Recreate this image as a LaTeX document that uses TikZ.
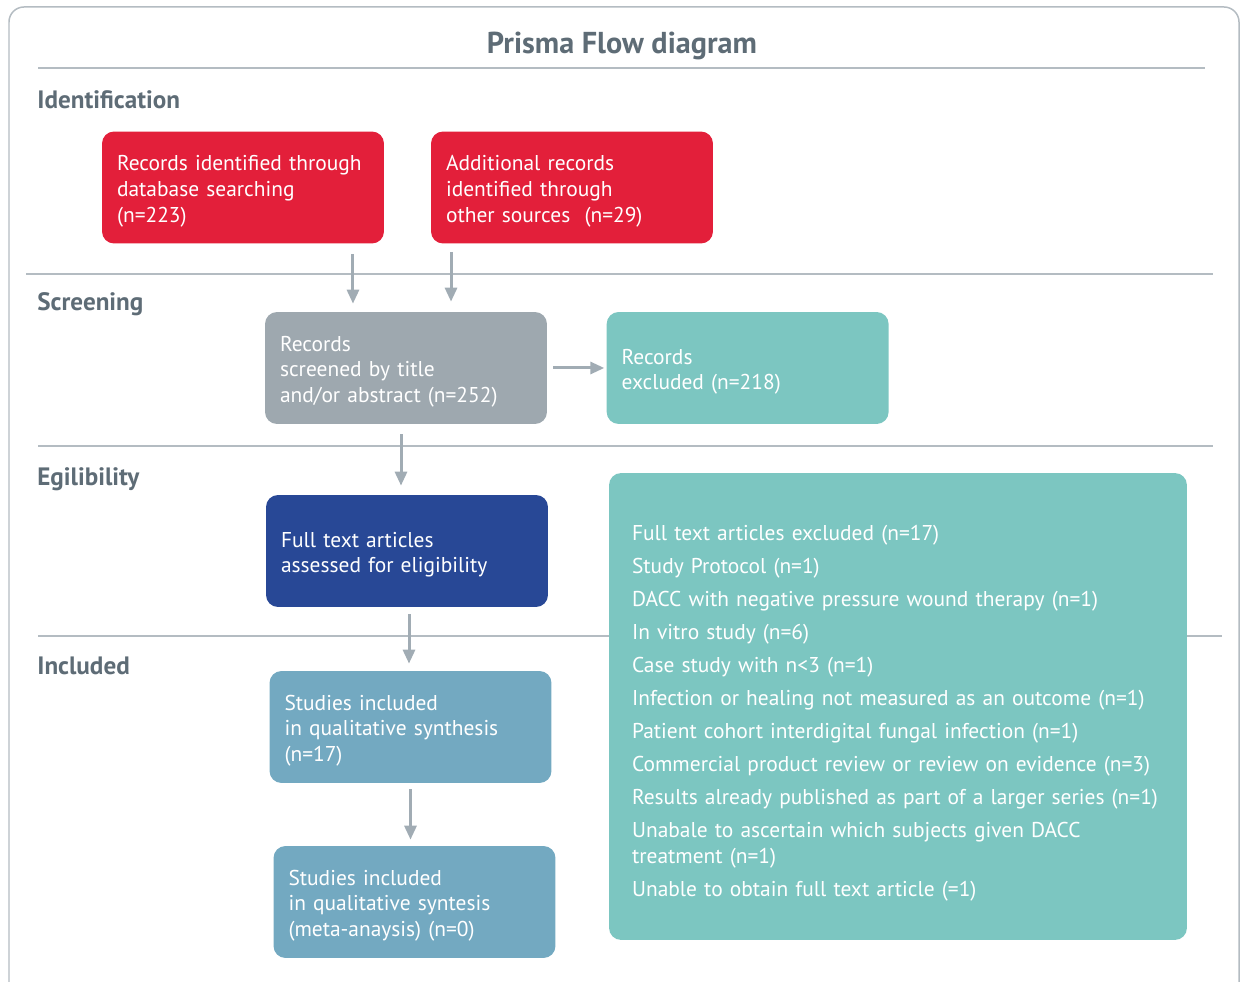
\documentclass[tikz,border=0pt]{standalone}
\usepackage{fontspec}
\setmainfont{PT Sans}
\usetikzlibrary{arrows.meta,positioning}
\definecolor{prred}{HTML}{E31F3A}
\definecolor{prgrey}{HTML}{9EA8AF}
\definecolor{prteal}{HTML}{7CC6C1}
\definecolor{prblue}{HTML}{284896}
\definecolor{prsteel}{HTML}{73A9C1}
\definecolor{labgrey}{HTML}{5E6C76}
\definecolor{linegrey}{HTML}{B4BCC2}
\definecolor{arrgrey}{HTML}{A1ACB4}

\begin{document}
\begin{tikzpicture}[x=0.02cm, y=-0.02cm,
    box/.style={rectangle, rounded corners=0.24cm, text=white, align=left, inner xsep=0.3cm, inner ysep=0pt,
                text width=5.04cm, minimum height=2.24cm, font=\fontsize{12.2}{14.6}\selectfont,
                text height=12.8pt},
    sec/.style={anchor=west, inner sep=0pt, text=labgrey, font=\bfseries\fontsize{14.3}{17}\selectfont},
    sepline/.style={draw=linegrey, line width=0.04cm},
    arr/.style={draw=arrgrey, line width=0.06cm, -{Triangle[length=0.28cm, width=0.24cm]}}]
\clip (0,0) rectangle (1242,982);
\draw[linegrey, line width=0.03cm, rounded corners=0.3cm] (9,7) rectangle (1239,1020);
\node[text=labgrey, font=\bfseries\fontsize{17.2}{20}\selectfont] (title) at (622,46) {Prisma Flow diagram};
\draw[sepline] (38,68) -- (1205,68);
\draw[sepline] (26,274) -- (1213,274);
\draw[sepline] (38,446) -- (1213,446);
\draw[sepline] (38,636) -- (1222,636);
\foreach \n/\y/\t in {idl/100/Identification, scl/304/Screening, ell/479/Egilibility, inl/666/Included}
    \node[sec] (\n) at (37,\y) {\t};
\node[box, fill=prred] (red1) at (243,187.5) {Records identified through\\database searching\\(n=223)};
\node[box, fill=prred] (red2) at (572,187.5) {Additional records\\identified through\\other sources~ (n=29)};
\node[box, fill=prgrey] (grey) at (406,368) {Records\\screened by title\\and/or abstract (n=252)};
\node[box, fill=prteal, right=1.18cm of grey] (recex) {Records\\excluded (n=218)};
\node[box, fill=prblue] (full) at (407,551) {Full text articles\\assessed for eligibility};
\node[box, fill=prsteel] (qual1) at (410.5,727) {Studies included\\in qualitative synthesis\\(n=17)};
\node[box, fill=prsteel] (qual2) at (414.5,902) {Studies included\\in qualitative syntesis\\(meta-anaysis) (n=0)};
\node[box, fill=prteal, text width=10.64cm, inner xsep=0.46cm, minimum height=9.34cm, text height=16pt] (fullex) at (898,706.5)
    {Full text articles excluded (n=17)\\[4.2pt]
     Study Protocol (n=1)\\[4.2pt]
     DACC with negative pressure wound therapy (n=1)\\[4.2pt]
     In vitro study (n=6)\\[4.2pt]
     Case study with n<3 (n=1)\\[4.2pt]
     Infection or healing not measured as an outcome (n=1)\\[4.2pt]
     Patient cohort interdigital fungal infection (n=1)\\[4.2pt]
     Commercial product review or review on evidence (n=3)\\[4.2pt]
     \mbox{Results already published as part of a larger series (n=1)}\\[4.2pt]
     Unabale to ascertain which subjects given DACC\\treatment (n=1)\\[4.2pt]
     Unable to obtain full text article (=1)};
\draw[arr, shorten <=0.2cm, shorten >=0.16cm] ([xshift=2.2cm]red1.south) -- ([xshift=2.2cm]red1.south |- grey.north);
\draw[arr, shorten <=0.16cm, shorten >=0.2cm] ([xshift=-2.42cm]red2.south) -- ([xshift=-2.42cm]red2.south |- grey.north);
\draw[arr, shorten <=0.12cm, shorten >=0.04cm] (grey.east) -- (recex.west);
\draw[arr, shorten <=0.2cm, shorten >=0.18cm] ([xshift=-0.1cm]grey.south) -- ([xshift=-0.1cm]grey.south |- full.north);
\draw[arr, shorten <=0.14cm, shorten >=0.14cm] ([xshift=0.04cm]full.south) -- ([xshift=0.04cm]full.south |- qual1.north);
\draw[arr, shorten <=0.12cm, shorten >=0.12cm] (qual1.south) -- (qual1.south |- qual2.north);
\end{tikzpicture}
\end{document}
